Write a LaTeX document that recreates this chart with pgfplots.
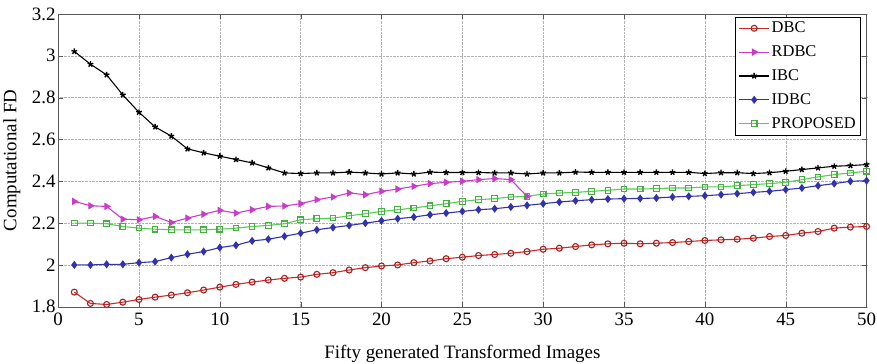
\documentclass[border=0pt]{standalone}
\usepackage{pgfplots}
\pgfplotsset{compat=1.18}
\usepackage{fontspec}
\setmainfont{Liberation Serif}
\definecolor{cred}{RGB}{205,40,40}
\definecolor{cmag}{RGB}{200,60,200}
\definecolor{cblue}{RGB}{50,50,170}
\definecolor{cgreen}{RGB}{85,205,80}
\begin{document}
\begin{tikzpicture}[x=1bp,y=1bp]
\begin{axis}[
  scale only axis,
  width=809bp, height=293bp,
  xmin=0, xmax=50, ymin=1.8, ymax=3.2,
  xtick={0,5,...,50},
  ytick={1.8,2,2.2,2.4,2.6,2.8,3,3.2},
  yticklabels={1.8,2,2.2,2.4,2.6,2.8,3,3.2},
  tick align=inside,
  major tick length=5bp,
  grid=major,
  grid style={densely dotted, gray!60},
  axis line style={gray!70!black},
  tick style={gray!70!black},
  /pgf/number format/assume math mode=true,
  tick label style={font=\fontsize{19}{20}\selectfont, inner sep=1bp},
  xticklabel style={yshift=-5bp},
  yticklabel style={xshift=-1.3bp},
  label style={font=\fontsize{19}{21}\selectfont},
  xlabel={Fifty generated Transformed Images},
  ylabel={Computational FD},
  xlabel style={yshift=-17bp, inner sep=1bp},
  ylabel style={yshift=7bp},
  legend cell align=left,
  legend style={font=\fontsize{16.5}{18}\selectfont, draw=black, inner sep=3bp, row sep=7.5bp,
    at={(0.993,0.99)}, anchor=north east},
  legend image code/.code={
    \draw[mark repeat=2,mark phase=2] plot coordinates {(0bp,0bp) (15bp,0bp) (30bp,0bp)};
  },
  every axis plot/.append style={line width=1.1pt, mark size=3pt},
]
\addplot[cred, mark=o, mark options={fill=cred!40, draw=cred!80!black}] coordinates {
(1,1.870)(2,1.816)(3,1.811)(4,1.822)(5,1.835)(6,1.846)(7,1.856)(8,1.867)(9,1.880)(10,1.894)
(11,1.907)(12,1.918)(13,1.928)(14,1.936)(15,1.942)(16,1.955)(17,1.963)(18,1.976)(19,1.987)(20,1.995)
(21,2.000)(22,2.011)(23,2.019)(24,2.030)(25,2.037)(26,2.045)(27,2.050)(28,2.056)(29,2.064)(30,2.075)
(31,2.080)(32,2.088)(33,2.096)(34,2.101)(35,2.104)(36,2.101)(37,2.104)(38,2.107)(39,2.112)(40,2.117)
(41,2.120)(42,2.123)(43,2.128)(44,2.136)(45,2.141)(46,2.152)(47,2.160)(48,2.176)(49,2.181)(50,2.184)};
\addlegendentry{DBC}
\addplot[cmag, mark=triangle*, mark options={rotate=-90, fill=cmag}, mark size=3.3pt] coordinates {
(1,2.304)(2,2.283)(3,2.280)(4,2.219)(5,2.216)(6,2.232)(7,2.203)(8,2.224)(9,2.243)(10,2.261)
(11,2.248)(12,2.264)(13,2.280)(14,2.282)(15,2.293)(16,2.312)(17,2.325)(18,2.344)(19,2.336)(20,2.352)
(21,2.363)(22,2.376)(23,2.389)(24,2.395)(25,2.400)(26,2.408)(27,2.413)(28,2.408)(29,2.328)};
\addlegendentry{RDBC}
\addplot[black, mark=star, mark options={line width=1.4pt}, mark size=3pt] coordinates {
(1,3.021)(2,2.960)(3,2.909)(4,2.813)(5,2.730)(6,2.660)(7,2.616)(8,2.555)(9,2.536)(10,2.520)
(11,2.504)(12,2.488)(13,2.464)(14,2.440)(15,2.437)(16,2.440)(17,2.440)(18,2.444)(19,2.440)(20,2.435)
(21,2.440)(22,2.435)(23,2.444)(24,2.442)(25,2.442)(26,2.442)(27,2.440)(28,2.440)(29,2.435)(30,2.440)
(31,2.440)(32,2.444)(33,2.443)(34,2.443)(35,2.443)(36,2.443)(37,2.443)(38,2.443)(39,2.443)(40,2.437)
(41,2.441)(42,2.441)(43,2.437)(44,2.441)(45,2.448)(46,2.456)(47,2.464)(48,2.472)(49,2.475)(50,2.480)};
\addlegendentry{IBC}
\addplot[cblue, mark=diamond*, mark options={fill=cblue}, mark size=3.2pt] coordinates {
(1,2.000)(2,2.000)(3,2.003)(4,2.003)(5,2.011)(6,2.016)(7,2.035)(8,2.051)(9,2.064)(10,2.083)
(11,2.094)(12,2.115)(13,2.123)(14,2.137)(15,2.152)(16,2.168)(17,2.179)(18,2.189)(19,2.200)(20,2.211)
(21,2.221)(22,2.229)(23,2.240)(24,2.248)(25,2.256)(26,2.264)(27,2.269)(28,2.277)(29,2.285)(30,2.293)
(31,2.301)(32,2.307)(33,2.312)(34,2.315)(35,2.317)(36,2.318)(37,2.320)(38,2.325)(39,2.328)(40,2.331)
(41,2.336)(42,2.341)(43,2.347)(44,2.352)(45,2.360)(46,2.368)(47,2.379)(48,2.389)(49,2.400)(50,2.403)};
\addlegendentry{IDBC}
\addplot[cgreen, mark=square, mark options={fill=cgreen!40, draw=cgreen!85!black}, mark size=2.8pt] coordinates {
(1,2.200)(2,2.200)(3,2.197)(4,2.184)(5,2.176)(6,2.171)(7,2.168)(8,2.168)(9,2.168)(10,2.171)
(11,2.176)(12,2.184)(13,2.189)(14,2.197)(15,2.216)(16,2.221)(17,2.224)(18,2.235)(19,2.245)(20,2.256)
(21,2.264)(22,2.272)(23,2.283)(24,2.293)(25,2.304)(26,2.312)(27,2.317)(28,2.325)(29,2.328)(30,2.339)
(31,2.344)(32,2.347)(33,2.352)(34,2.357)(35,2.363)(36,2.363)(37,2.365)(38,2.368)(39,2.368)(40,2.373)
(41,2.373)(42,2.379)(43,2.384)(44,2.389)(45,2.395)(46,2.408)(47,2.421)(48,2.432)(49,2.440)(50,2.448)};
\addlegendentry{PROPOSED}
\end{axis}
\path ([yshift=14bp]current axis.north);
\end{tikzpicture}
\end{document}
